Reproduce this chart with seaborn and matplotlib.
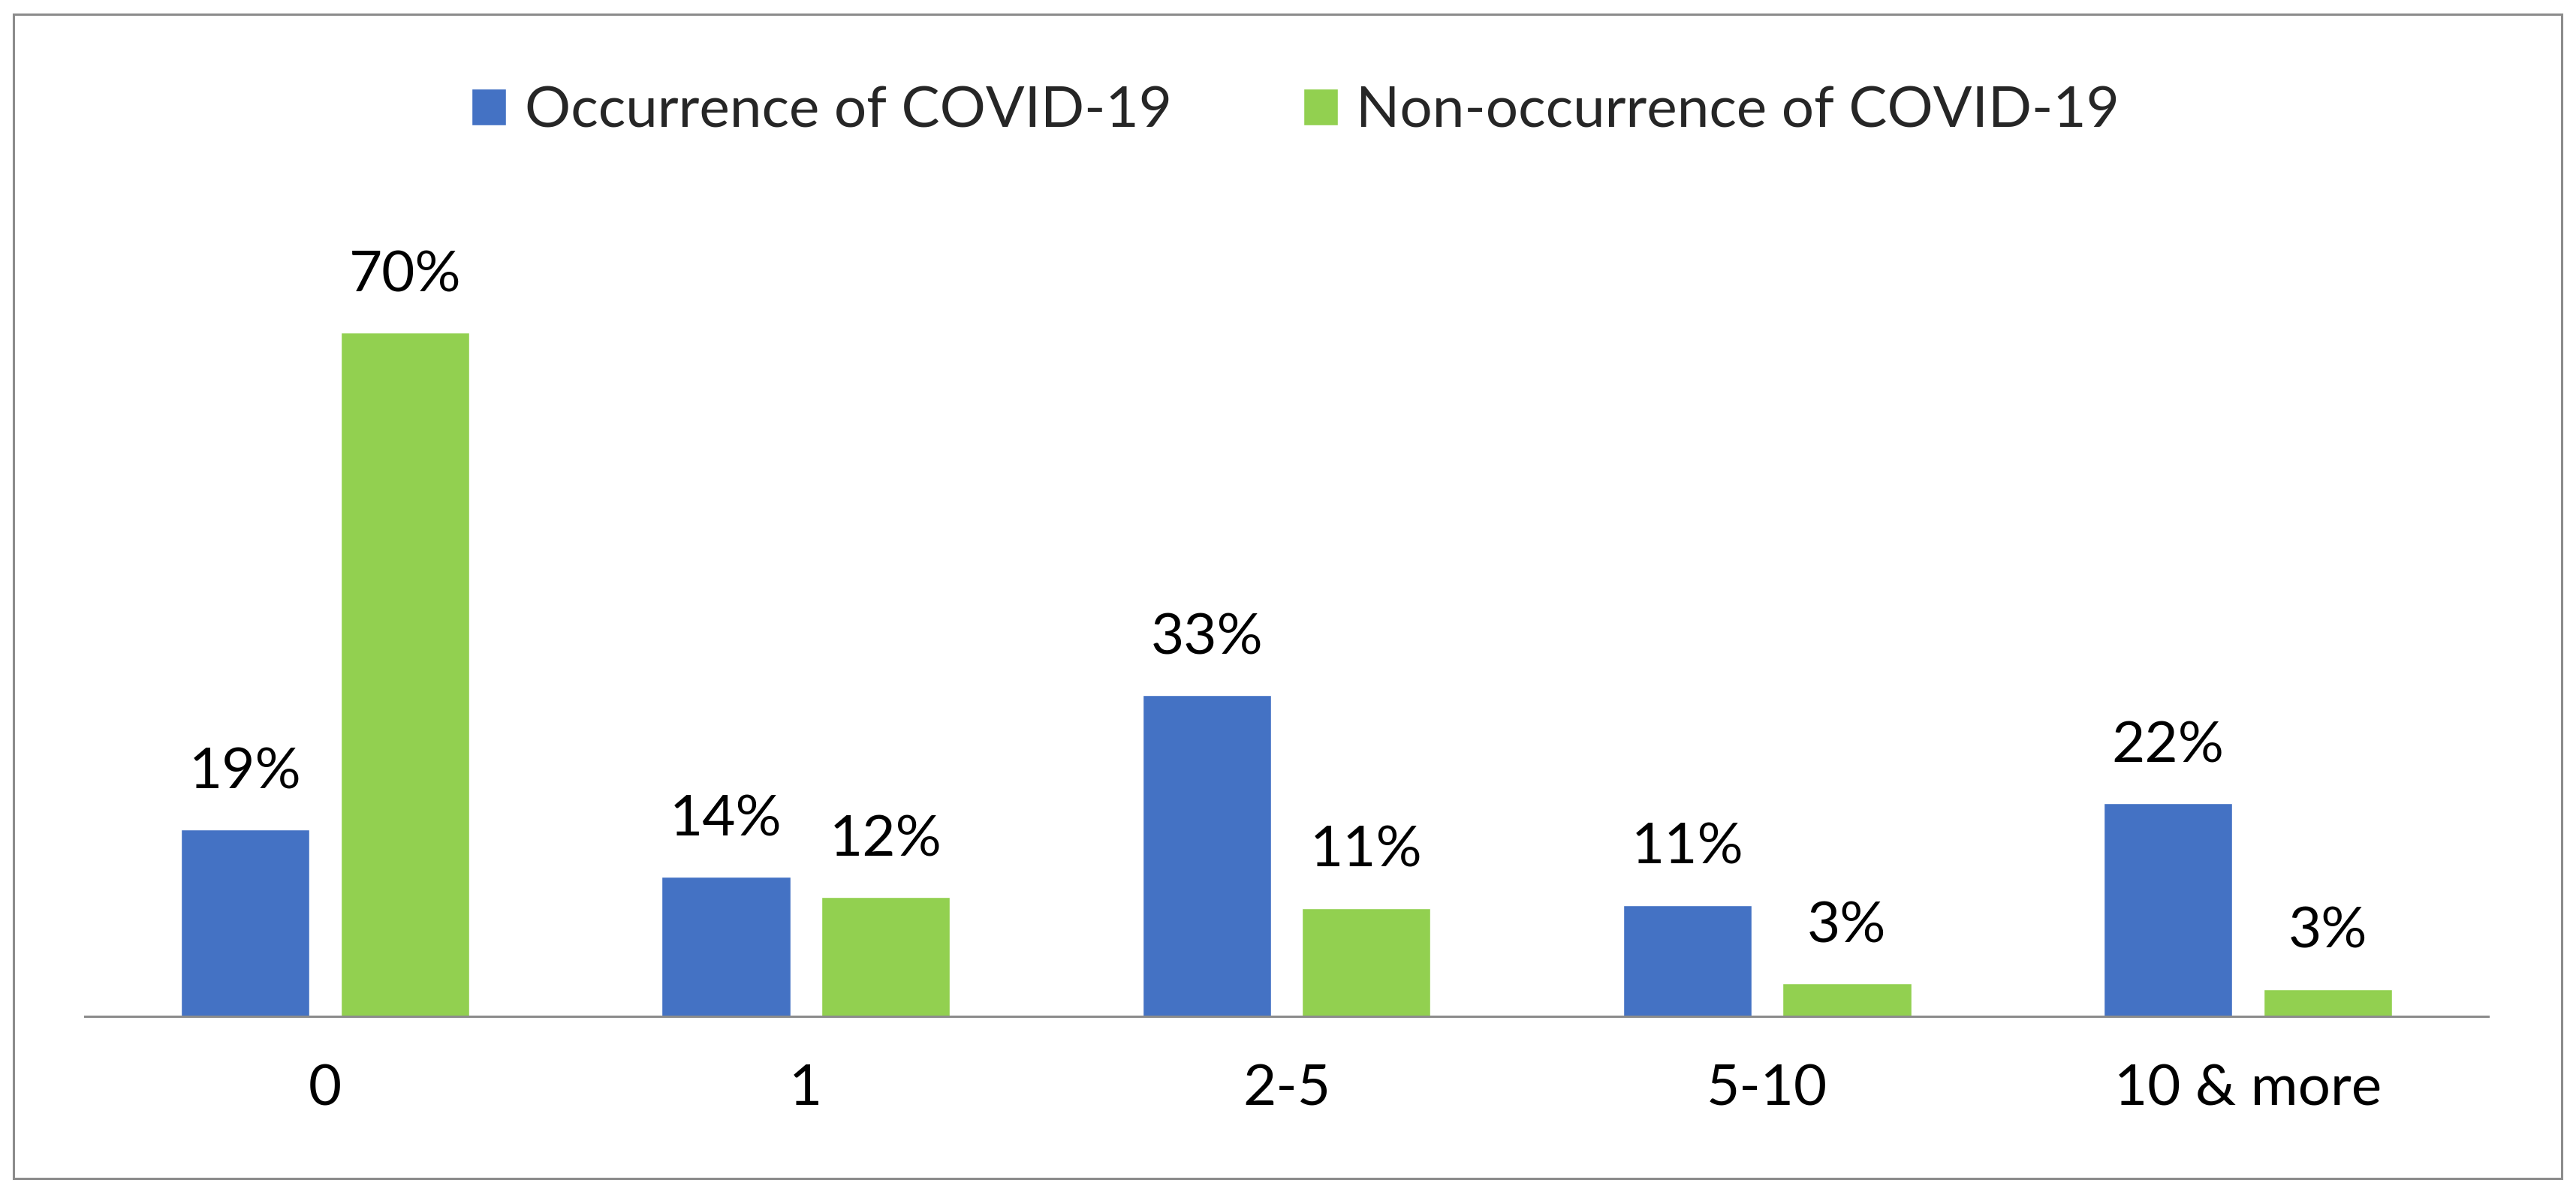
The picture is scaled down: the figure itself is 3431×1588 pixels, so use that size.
import matplotlib
matplotlib.use("Agg")
import matplotlib.pyplot as plt
import seaborn as sns
import pandas as pd
from matplotlib.patches import Rectangle

# Data (bar heights; labels show them rounded)
categories = ['0', '1', '2-5', '5-10', '10 & more']
occurrence = [19.1, 14.3, 32.9, 11.4, 21.8]
non_occurrence = [70.0, 12.2, 11.1, 3.4, 2.8]
series_names = ['Occurrence of COVID-19', 'Non-occurrence of COVID-19']
colors = ['#4472C4', '#92D050']

df = pd.DataFrame({
    'group': categories * 2,
    'value': occurrence + non_occurrence,
    'series': [series_names[0]] * len(categories) + [series_names[1]] * len(categories),
})

sns.set_style('white')
plt.rcParams['font.family'] = ['Lato', 'DejaVu Sans']

fig = plt.figure(figsize=(34.31, 15.88), dpi=100)
ax = fig.add_axes([113 / 3431, 1 - 1354 / 1588, (3314 - 113) / 3431, 1041 / 1588])

sns.barplot(data=df, x='group', y='value', hue='series', order=categories,
            hue_order=series_names, palette=colors, width=0.664, gap=0.195,
            saturation=1, ax=ax, legend=True)

for cont in ax.containers:
    ax.bar_label(cont, labels=[f'{v:.0f}%' for v in cont.datavalues],
                 padding=30, fontsize=55, color='black')

ax.set_xlim(-0.5, len(categories) - 0.5)
ax.set_ylim(0, 80)
ax.set_xlabel('')
ax.set_ylabel('')
ax.set_yticks([])
ax.tick_params(axis='x', length=0, pad=45, labelsize=55, labelcolor='black')
for side in ['top', 'left', 'right']:
    ax.spines[side].set_visible(False)
ax.spines['bottom'].set_color('#8C8C8C')
ax.spines['bottom'].set_linewidth(2.2)

handles, labels = ax.get_legend_handles_labels()
ax.get_legend().remove()
fig.legend(handles, labels, loc='center', bbox_to_anchor=(0.503, 0.907), ncol=2,
           frameon=False, fontsize=55, handlelength=0.6, handleheight=0.6,
           handletextpad=0.32, columnspacing=2.3)

# outer chart border
fig.patches.append(Rectangle((18 / 3431, 1 - 1570 / 1588), (3412 - 18) / 3431,
                             (1570 - 19) / 1588, transform=fig.transFigure,
                             fill=False, edgecolor='#8C8C8C', linewidth=2.2))

fig.savefig('out.png', dpi=100, facecolor='white')
